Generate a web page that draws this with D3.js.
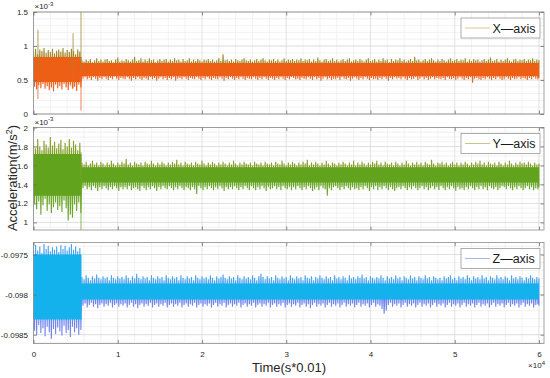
<!DOCTYPE html>
<html>
<head>
<meta charset="utf-8">
<script src="https://cdn.jsdelivr.net/npm/d3@7/dist/d3.min.js"></script>
<style>
    body { margin: 0; background: #fff; }
    text { font-family: "Liberation Sans", Arial, sans-serif; }
</style>
</head>
<body>
<svg width="550" height="378"></svg>
<script>
// peak values of the signal, every 250 samples (t = 0 ... 60000)
// all values in units of 1e-5 m/s^2
var sampleStep = 250;
// the strong vibration stops here
var stopT = 5700;

// X axis
var xPeakHi = [92,96,88,95,93,97,90,94,91,96,89,93,95,92,97,90,94,91,96,93,88,95,92,
    79,77,80,78,81,76,79,82,78,80,
    77,80,81,78,79,76,80,83,77,79,
    78,81,79,77,80,84,78,79,82,77,
    80,78,82,79,80,76,79,81,78,80,
    81,77,80,78,82,79,80,77,81,78,
    79,82,77,80,78,81,79,77,80,79,
    81,78,80,77,79,82,78,88,79,80,
    78,80,77,81,79,78,80,82,79,78,
    80,77,79,81,78,80,82,79,77,80,
    79,81,78,80,77,79,82,78,80,79,
    81,78,80,79,82,78,80,79,81,77,
    80,78,83,79,77,80,81,78,79,82,
    78,80,77,79,81,78,80,82,77,79,
    80,78,81,79,77,80,82,78,79,81,
    77,80,78,82,79,80,76,81,78,80,
    79,82,78,80,77,79,81,78,84,79,
    80,77,79,81,78,80,82,79,77,80,
    78,81,79,77,80,82,78,79,81,78,
    80,79,82,77,80,78,81,79,80,77,
    79,81,78,80,83,78,79,81,77,80,
    78,80,82,79,77,80,81,78,80,79,
    81,78,80,79,82,78,80,79];
var xPeakLo = [40,36,42,38,44,37,41,35,39,33,43,38,41,36,44,39,35,42,37,40,34,43,39,
    52,54,51,53,50,54,52,49,53,51,
    54,52,50,53,51,55,52,50,53,52,
    51,54,52,49,53,51,54,52,50,53,
    52,50,54,51,53,49,52,54,51,53,
    50,53,51,54,49,52,53,51,54,52,
    50,53,52,51,54,52,50,53,51,54,
    52,50,53,52,51,54,52,49,53,51,
    54,52,50,53,51,54,52,50,53,52,
    51,54,52,50,53,51,54,52,50,53,
    52,50,53,51,54,52,50,53,51,54,
    53,51,52,50,53,52,51,54,52,50,
    54,51,53,49,52,54,51,53,50,52,
    51,53,50,54,52,51,53,49,52,54,
    52,50,53,51,54,52,50,53,51,52,
    50,53,51,54,52,49,53,51,54,52,
    53,51,54,52,50,53,51,52,54,50,
    52,54,51,53,50,52,54,51,53,52,
    51,53,50,54,52,51,53,50,52,54,
    52,50,53,51,54,46,52,53,51,50,
    53,51,54,52,50,53,51,54,52,50,
    51,54,52,50,53,51,52,54,51,53,
    52,50,53,51,54,52,51,53];
var xCoreHi = [84, 75];
var xCoreLo = [47, 56];
var xSpikeT = [530, 4700, 5640];
var xSpikeHi = [124, 119, 160];
var xSpikeLo = [22, 38, 5];

// Y axis
var yPeakHi = [184,178,188,180,176,186,182,179,190,181,185,178,183,187,177,184,180,188,179,186,182,176,184,
    163,161,164,160,162,165,161,163,160,164,
    162,160,163,161,165,162,160,163,161,164,
    162,167,161,163,160,164,162,161,163,160,
    164,162,161,165,162,160,163,161,164,162,
    160,163,161,164,162,166,161,163,160,164,
    162,161,163,160,164,162,161,165,162,160,
    163,161,164,162,160,163,161,164,162,160,
    163,161,165,162,160,163,161,164,162,161,
    163,160,164,162,161,163,160,164,162,161,
    163,160,164,162,161,165,162,160,163,161,
    164,162,160,163,161,164,162,166,160,163,
    161,164,162,160,163,161,165,162,160,163,
    162,160,163,161,164,162,160,163,161,165,
    160,163,161,164,162,160,163,161,164,162,
    165,161,163,160,164,162,161,163,160,164,
    162,160,163,161,165,162,160,163,161,164,
    161,163,160,164,162,161,166,162,160,163,
    162,164,161,163,160,162,164,161,163,160,
    163,161,164,162,160,163,161,164,162,165,
    161,163,160,164,162,161,163,160,164,162,
    160,163,161,165,162,160,163,161,164,162,
    163,161,164,162,160,163,161,162];
var yPeakLo = [120,114,122,108,118,125,112,119,110,116,121,113,117,111,123,115,102,108,105,119,112,121,110,
    136,138,135,137,134,138,136,133,137,135,
    138,136,134,137,135,138,136,133,137,135,
    137,135,138,134,136,137,135,133,138,136,
    134,137,135,138,136,133,137,135,138,136,
    135,138,136,134,137,135,138,136,134,137,
    136,134,137,135,130,138,136,134,137,135,
    138,136,134,137,135,138,136,133,137,135,
    137,135,138,136,134,137,135,138,136,134,
    138,136,134,137,135,138,136,133,137,135,
    136,138,135,137,134,138,136,135,137,134,
    137,135,138,136,134,137,135,138,136,133,
    135,137,134,138,136,135,128,136,134,137,
    138,136,134,137,135,138,136,134,137,135,
    136,134,137,135,138,136,133,137,135,138,
    134,137,135,138,136,134,137,135,133,136,
    137,135,138,136,134,137,135,138,136,134,
    136,138,135,137,134,136,138,135,137,134,
    138,136,134,137,135,138,136,133,137,135,
    136,134,137,135,138,136,134,137,135,138,
    135,137,134,138,136,135,137,134,136,138,
    137,135,138,136,134,137,135,138,136,134,
    136,138,135,137,134,136,135,137];
var yCoreHi = [172, 158];
var yCoreLo = [128, 142];
var ySpikeT = [5640];
var ySpikeHi = [174];
var ySpikeLo = [90];

// Z axis
var zPeakHi = [-9742,-9738,-9745,-9740,-9748,-9737,-9743,-9739,-9746,-9741,-9744,-9740,-9747,-9738,-9743,-9739,-9745,-9741,-9737,-9744,-9740,-9746,-9742,
    -9778,-9781,-9776,-9779,-9782,-9777,-9780,-9775,-9779,-9781,
    -9777,-9780,-9778,-9782,-9776,-9779,-9781,-9777,-9780,-9778,
    -9781,-9776,-9779,-9782,-9777,-9780,-9774,-9779,-9781,-9777,
    -9780,-9778,-9782,-9776,-9779,-9781,-9777,-9780,-9778,-9782,
    -9776,-9779,-9781,-9777,-9780,-9778,-9782,-9776,-9779,-9781,
    -9777,-9780,-9778,-9782,-9776,-9779,-9781,-9777,-9780,-9778,
    -9781,-9776,-9779,-9782,-9777,-9780,-9778,-9775,-9779,-9781,
    -9777,-9780,-9778,-9782,-9776,-9779,-9781,-9777,-9780,-9778,
    -9781,-9776,-9779,-9782,-9777,-9774,-9778,-9781,-9777,-9780,
    -9778,-9782,-9776,-9779,-9781,-9777,-9780,-9778,-9782,-9776,
    -9779,-9781,-9777,-9780,-9778,-9782,-9776,-9779,-9780,-9777,
    -9782,-9778,-9780,-9776,-9779,-9781,-9777,-9780,-9778,-9782,
    -9776,-9780,-9778,-9781,-9777,-9779,-9782,-9776,-9780,-9778,
    -9781,-9777,-9779,-9775,-9780,-9778,-9782,-9777,-9779,-9781,
    -9778,-9780,-9776,-9779,-9782,-9777,-9780,-9778,-9781,-9776,
    -9780,-9778,-9782,-9777,-9779,-9781,-9776,-9780,-9778,-9782,
    -9777,-9779,-9781,-9776,-9780,-9778,-9782,-9777,-9779,-9781,
    -9779,-9782,-9777,-9780,-9778,-9776,-9781,-9779,-9782,-9777,
    -9780,-9778,-9781,-9776,-9779,-9782,-9777,-9780,-9778,-9781,
    -9776,-9780,-9778,-9782,-9777,-9779,-9781,-9776,-9780,-9778,
    -9781,-9777,-9779,-9782,-9776,-9780,-9778,-9781,-9777,-9779,
    -9782,-9778,-9780,-9776,-9779,-9781,-9778,-9780];
var zPeakLo = [-9845,-9850,-9838,-9848,-9842,-9852,-9840,-9847,-9855,-9843,-9849,-9841,-9846,-9851,-9839,-9848,-9844,-9853,-9840,-9847,-9842,-9850,-9844,
    -9814,-9811,-9816,-9813,-9810,-9815,-9812,-9817,-9813,-9811,
    -9815,-9812,-9814,-9810,-9816,-9813,-9811,-9815,-9812,-9814,
    -9811,-9816,-9813,-9810,-9815,-9812,-9817,-9813,-9811,-9815,
    -9812,-9814,-9810,-9816,-9813,-9811,-9815,-9812,-9814,-9810,
    -9816,-9813,-9811,-9815,-9812,-9814,-9810,-9816,-9813,-9811,
    -9815,-9812,-9814,-9810,-9816,-9813,-9811,-9815,-9812,-9814,
    -9811,-9816,-9813,-9810,-9815,-9812,-9814,-9810,-9816,-9813,
    -9811,-9815,-9812,-9814,-9810,-9816,-9813,-9811,-9815,-9812,
    -9814,-9810,-9816,-9813,-9811,-9815,-9812,-9814,-9810,-9816,
    -9813,-9811,-9815,-9812,-9814,-9810,-9816,-9813,-9811,-9815,
    -9812,-9814,-9810,-9816,-9813,-9811,-9815,-9812,-9817,-9813,
    -9810,-9815,-9812,-9814,-9811,-9816,-9813,-9810,-9815,-9812,
    -9814,-9811,-9816,-9813,-9810,-9815,-9812,-9814,-9811,-9816,
    -9813,-9810,-9815,-9812,-9814,-9811,-9816,-9813,-9810,-9815,
    -9812,-9814,-9818,-9824,-9820,-9813,-9810,-9815,-9812,-9814,
    -9811,-9816,-9813,-9810,-9815,-9812,-9814,-9811,-9816,-9813,
    -9810,-9815,-9812,-9814,-9811,-9816,-9813,-9810,-9815,-9812,
    -9814,-9811,-9816,-9813,-9810,-9815,-9812,-9814,-9811,-9816,
    -9813,-9810,-9815,-9812,-9814,-9811,-9816,-9813,-9810,-9815,
    -9812,-9814,-9811,-9816,-9813,-9810,-9815,-9812,-9814,-9811,
    -9816,-9813,-9810,-9815,-9812,-9814,-9811,-9816,-9813,-9810,
    -9815,-9812,-9814,-9811,-9816,-9813,-9812,-9814];
var zCoreHi = [-9750, -9786];
var zCoreLo = [-9831, -9806];
var zSpikeT = [];
var zSpikeHi = [];
var zSpikeLo = [];

// ticks
var timeTicks = [0, 10000, 20000, 30000, 40000, 50000, 60000];
var xAxisTicks = [0, 0.5, 1, 1.5];
var yAxisTicks = [1, 1.2, 1.4, 1.6, 1.8, 2];
var zAxisTicks = [-0.0985, -0.098, -0.0975];

var svg = d3.select("svg");
var defs = svg.append("defs");
var left = 33.5, right = 544;
var x = d3.scaleLinear().domain([0, 60600]).range([left, right]);

var panels = [
    {name: "X\u2014axis", hi: xPeakHi, lo: xPeakLo, coreHi: xCoreHi, coreLo: xCoreLo,
        spT: xSpikeT, spHi: xSpikeHi, spLo: xSpikeLo, unit: 0.01, domain: [0, 1.5], ticks: xAxisTicks, minor: 0.1,
        top: 12, bottom: 114, exp: true,
        up: "#a08a2c", down: "#ee6624", core: "#ed5f14", legend: "#d4c89a"},
    {name: "Y\u2014axis", hi: yPeakHi, lo: yPeakLo, coreHi: yCoreHi, coreLo: yCoreLo,
        spT: ySpikeT, spHi: ySpikeHi, spLo: ySpikeLo, unit: 0.01, domain: [0.92, 2], ticks: yAxisTicks, minor: 0.05,
        top: 127.5, bottom: 230, exp: true,
        up: "#86a02c", down: "#6aa82a", core: "#61a31c", legend: "#c4c890"},
    {name: "Z\u2014axis", hi: zPeakHi, lo: zPeakLo, coreHi: zCoreHi, coreLo: zCoreLo,
        spT: zSpikeT, spHi: zSpikeHi, spLo: zSpikeLo, unit: 1e-5, domain: [-0.09861, -0.09735], ticks: zAxisTicks, minor: 0.0001,
        top: 242.5, bottom: 343.5, exp: false,
        up: "#4aa2f0", down: "#6e86ee", core: "#14b2ec", legend: "#a8b4ea"}
];

panels.forEach(function (p, k) {
    var y0 = d3.scaleLinear().domain(p.domain).range([p.bottom, p.top]);
    var y = function (v) { return y0(v * p.unit); };
    var g = svg.append("g");
    var w = right - left;
    var mid = y((p.coreHi[1] + p.coreLo[1]) / 2);

    defs.append("clipPath").attr("id", "up" + k).append("rect")
        .attr("x", left).attr("y", p.top).attr("width", w).attr("height", mid - p.top);
    defs.append("clipPath").attr("id", "dn" + k).append("rect")
        .attr("x", left).attr("y", mid).attr("width", w).attr("height", p.bottom - mid);
    defs.append("clipPath").attr("id", "all" + k).append("rect")
        .attr("x", left).attr("y", p.top).attr("width", w).attr("height", p.bottom - p.top);

    // minor grid
    var xMinor = d3.range(0, 60601, 2000).filter(function (t) { return t % 10000 !== 0; });
    var i0 = Math.ceil(p.domain[0] / p.minor - 1e-6), i1 = Math.floor(p.domain[1] / p.minor + 1e-6);
    var yMinor = d3.range(i0, i1 + 1).map(function (i) { return +(i * p.minor).toFixed(6); });
    g.selectAll(".mx").data(xMinor).enter().append("line")
        .attr("x1", function (d) { return x(d); }).attr("x2", function (d) { return x(d); })
        .attr("y1", p.top).attr("y2", p.bottom)
        .attr("stroke", "#ececec").attr("stroke-width", 0.7);
    g.selectAll(".my").data(yMinor).enter().append("line")
        .attr("x1", left).attr("x2", right)
        .attr("y1", function (d) { return y0(d); }).attr("y2", function (d) { return y0(d); })
        .attr("stroke", "#ececec").attr("stroke-width", 0.7);
    // major grid
    g.selectAll(".gx").data(timeTicks).enter().append("line")
        .attr("x1", function (d) { return x(d); }).attr("x2", function (d) { return x(d); })
        .attr("y1", p.top).attr("y2", p.bottom)
        .attr("stroke", "#dadada").attr("stroke-width", 0.8);
    g.selectAll(".gy").data(p.ticks).enter().append("line")
        .attr("x1", left).attr("x2", right)
        .attr("y1", function (d) { return y0(d); }).attr("y2", function (d) { return y0(d); })
        .attr("stroke", "#dadada").attr("stroke-width", 0.8);

    // signal: zig-zag between the peaks, then the dense core band on top
    var pts = [];
    p.hi.forEach(function (v, i) {
        pts.push([i * sampleStep, v]);
        pts.push([i * sampleStep + sampleStep / 2, p.lo[i]]);
    });
    var line = d3.line()
        .x(function (d) { return x(Math.min(d[0], 60000)); })
        .y(function (d) { return y(d[1]); });
    g.append("path").datum(pts).attr("d", line)
        .attr("clip-path", "url(#up" + k + ")")
        .attr("fill", "none").attr("stroke", p.up).attr("stroke-width", 1.1);
    g.append("path").datum(pts).attr("d", line)
        .attr("clip-path", "url(#dn" + k + ")")
        .attr("fill", "none").attr("stroke", p.down).attr("stroke-width", 1.1);

    var band = [
        {t: 0, h: p.coreHi[0], l: p.coreLo[0]},
        {t: stopT, h: p.coreHi[1], l: p.coreLo[1]},
        {t: 60000, h: p.coreHi[1], l: p.coreLo[1]}
    ];
    g.append("path").datum(band)
        .attr("d", d3.area().curve(d3.curveStepAfter)
            .x(function (d) { return x(d.t); })
            .y0(function (d) { return y(d.l); })
            .y1(function (d) { return y(d.h); }))
        .attr("fill", p.core);

    // single spikes
    p.spT.forEach(function (t, i) {
        g.append("line").attr("clip-path", "url(#all" + k + ")")
            .attr("x1", x(t)).attr("x2", x(t))
            .attr("y1", y(p.spHi[i])).attr("y2", mid)
            .attr("stroke", p.up).attr("stroke-width", 0.8);
        g.append("line").attr("clip-path", "url(#all" + k + ")")
            .attr("x1", x(t)).attr("x2", x(t))
            .attr("y1", mid).attr("y2", y(p.spLo[i]))
            .attr("stroke", p.down).attr("stroke-width", 0.8);
    });

    // box and inward ticks
    g.append("rect").attr("x", left).attr("y", p.top)
        .attr("width", w).attr("height", p.bottom - p.top)
        .attr("fill", "none").attr("stroke", "#8c8c8c").attr("stroke-width", 0.8);

    function styleAxis(a) {
        a.select(".domain").remove();
        a.selectAll(".tick line").attr("stroke", "#6e6e6e").attr("stroke-width", 0.8);
        a.selectAll("text").attr("fill", "#262626").attr("font-size", 8)
            .attr("font-family", "'Liberation Sans', Arial, sans-serif");
    }
    var bottomAxis = d3.axisBottom(x).tickValues(timeTicks).tickSizeInner(-3.5).tickSizeOuter(0).tickPadding(8)
        .tickFormat(k === 2 ? function (d) { return String(d / 10000); } : "");
    g.append("g").attr("transform", "translate(0," + p.bottom + ")").call(bottomAxis).call(styleAxis);
    g.append("g").attr("transform", "translate(0," + p.top + ")")
        .call(d3.axisTop(x).tickValues(timeTicks).tickSizeInner(-3.5).tickSizeOuter(0).tickFormat(""))
        .call(styleAxis);
    g.append("g").attr("transform", "translate(" + left + ",0)")
        .call(d3.axisLeft(y0).tickValues(p.ticks).tickSizeInner(-3.5).tickSizeOuter(0).tickPadding(5.5)
            .tickFormat(function (d) { return String(d); }))
        .call(styleAxis);
    g.append("g").attr("transform", "translate(" + right + ",0)")
        .call(d3.axisRight(y0).tickValues(p.ticks).tickSizeInner(-3.5).tickSizeOuter(0).tickFormat(""))
        .call(styleAxis);

    // exponent
    if (p.exp) {
        var ex = g.append("text").attr("x", left + 1).attr("y", p.top - 3)
            .attr("font-size", 8).attr("fill", "#262626").text("\u00d710");
        ex.append("tspan").attr("dy", -3.5).attr("font-size", 6).text("-3");
    }

    // legend
    var lx = 461, ly = p.top + 6;
    g.append("rect").attr("x", lx).attr("y", ly).attr("width", 79).attr("height", 20)
        .attr("fill", "#fff").attr("stroke", "#9a9a9a").attr("stroke-width", 0.8);
    g.append("line").attr("x1", lx + 4).attr("x2", lx + 29)
        .attr("y1", ly + 10).attr("y2", ly + 10)
        .attr("stroke", p.legend).attr("stroke-width", 1);
    g.append("text").attr("x", lx + 31.5).attr("y", ly + 10).attr("dy", "0.36em")
        .attr("font-size", 12.5).attr("fill", "#1a1a1a").text(p.name);
});

// x exponent and axis titles
var xe = svg.append("text").attr("x", right + 1).attr("y", 368).attr("text-anchor", "end")
    .attr("font-size", 8).attr("fill", "#262626").text("\u00d710");
xe.append("tspan").attr("dy", -3.5).attr("font-size", 6).text("4");

svg.append("text").attr("x", 289).attr("y", 372).attr("text-anchor", "middle")
    .attr("font-size", 13).attr("fill", "#262626").text("Time(s*0.01)");

var yl = svg.append("text").attr("transform", "translate(17,178) rotate(-90)")
    .attr("text-anchor", "middle").attr("font-size", 13).attr("fill", "#262626")
    .text("Acceleration(m/s");
yl.append("tspan").attr("dy", -5).attr("font-size", 9).text("2");
yl.append("tspan").attr("dy", 5).text(")");
</script>
</body>
</html>
